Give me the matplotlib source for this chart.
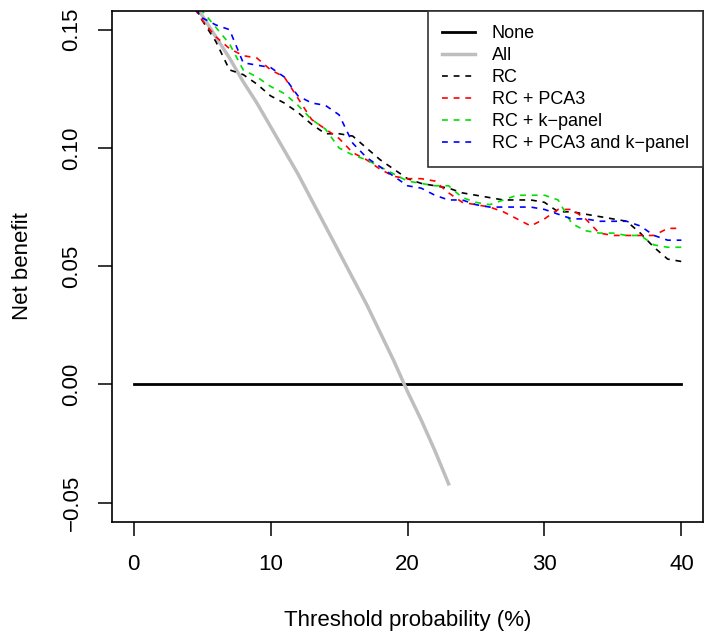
import numpy as np
import matplotlib
matplotlib.use("Agg")
import matplotlib.pyplot as plt

plt.rcParams["font.family"] = ["Liberation Sans", "DejaVu Sans"]

# threshold probability (%)
x_all = list(range(0, 24))
nb_all = [0.198, 0.190, 0.182, 0.173, 0.165, 0.156, 0.147, 0.138, 0.128, 0.119,
          0.109, 0.099, 0.089, 0.078, 0.067, 0.056, 0.045, 0.034, 0.022, 0.010,
          -0.003, -0.015, -0.028, -0.042]

x_model = list(range(4, 41))
nb_rc = [0.165, 0.154, 0.145, 0.133, 0.131, 0.127, 0.122, 0.119, 0.115, 0.110,
         0.106, 0.106, 0.105, 0.100, 0.095, 0.091, 0.087, 0.085, 0.084, 0.083,
         0.081, 0.080, 0.079, 0.078, 0.078, 0.078, 0.077, 0.073, 0.073, 0.072,
         0.071, 0.070, 0.069, 0.064, 0.058, 0.053, 0.052]
nb_pca3 = [0.163, 0.154, 0.147, 0.142, 0.139, 0.138, 0.133, 0.130, 0.121, 0.112,
           0.108, 0.104, 0.098, 0.095, 0.091, 0.088, 0.087, 0.087, 0.086, 0.081,
           0.077, 0.076, 0.075, 0.073, 0.070, 0.067, 0.070, 0.074, 0.074, 0.070,
           0.064, 0.063, 0.063, 0.063, 0.063, 0.066, 0.066]
nb_kpanel = [0.166, 0.158, 0.151, 0.144, 0.133, 0.130, 0.126, 0.123, 0.118, 0.112,
             0.108, 0.100, 0.097, 0.095, 0.092, 0.089, 0.086, 0.085, 0.084, 0.084,
             0.079, 0.077, 0.076, 0.078, 0.080, 0.080, 0.080, 0.078, 0.068, 0.065,
             0.064, 0.064, 0.063, 0.063, 0.059, 0.058, 0.058]
nb_both = [0.163, 0.155, 0.152, 0.150, 0.136, 0.135, 0.134, 0.130, 0.122, 0.119,
           0.118, 0.114, 0.102, 0.096, 0.092, 0.088, 0.084, 0.083, 0.080, 0.078,
           0.078, 0.076, 0.075, 0.075, 0.075, 0.075, 0.074, 0.072, 0.070, 0.070,
           0.069, 0.069, 0.069, 0.067, 0.063, 0.061, 0.061]

x_ticks = [0, 10, 20, 30, 40]
y_ticks = [-0.05, 0.00, 0.05, 0.10, 0.15]

fig = plt.figure(figsize=(7.13, 6.38), dpi=100)
ax = fig.add_axes([0.1567, 0.1823, 0.8297, 0.8009])

ax.plot([0, 40], [0, 0], color="black", lw=2, label="None")
ax.plot(x_all, nb_all, color="#BEBEBE", lw=2.5, label="All")
dash = (0, (3.5, 3.5))
ax.plot(x_model, nb_rc, color="black", lw=1.2, ls=dash, label="RC")
ax.plot(x_model, nb_pca3, color="#FF0000", lw=1.2, ls=dash, label="RC + PCA3")
ax.plot(x_model, nb_kpanel, color="#00E000", lw=1.2, ls=dash, label="RC + k\u2212panel")
ax.plot(x_model, nb_both, color="#0000FF", lw=1.2, ls=dash, label="RC + PCA3 and k\u2212panel")

ax.set_xlim(-1.6, 41.6)
ax.set_ylim(-0.058, 0.158)
ax.set_xticks(x_ticks)
ax.set_xticklabels([str(t) for t in x_ticks])
ax.set_yticks(y_ticks)
ax.set_yticklabels(["\u22120.05", "0.00", "0.05", "0.10", "0.15"],
                   rotation=90, va="center")
ax.tick_params(axis="both", length=10, width=1.1, labelsize=16)
ax.tick_params(axis="x", pad=13)
ax.tick_params(axis="y", pad=11)
for s in ax.spines.values():
    s.set_linewidth(1.2)

fig.text(0.5715, 0.028, "Threshold probability (%)", ha="center", va="center", fontsize=16)
fig.text(0.032, 0.583, "Net benefit", ha="center", va="center", rotation=90, fontsize=16)

leg = ax.legend(loc="upper right", borderaxespad=0, fancybox=False, framealpha=1,
                edgecolor="#333333", fontsize=13, handlelength=1.8,
                handletextpad=0.95, labelspacing=0.28, borderpad=0.8)
leg.get_frame().set_linewidth(1.2)

fig.savefig("out.png", dpi=100)
